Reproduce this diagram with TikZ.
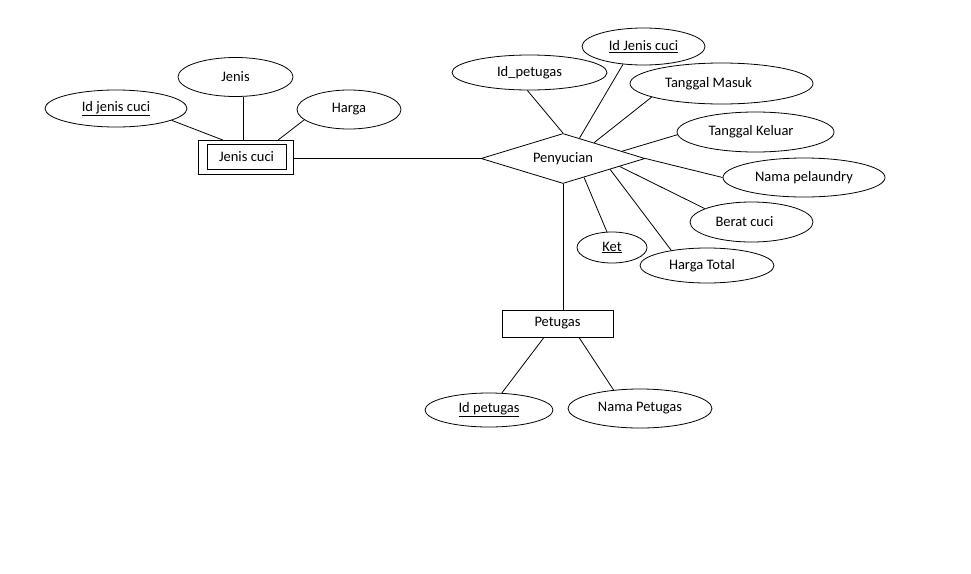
\documentclass[tikz,border=0pt]{standalone}
\usepackage{fontspec}
\setmainfont{Carlito}
\usetikzlibrary{shapes.geometric}
\begin{document}
\begin{tikzpicture}[x=1pt,y=-1pt, line width=0.8pt,
  every node/.style={font=\fontsize{14.5}{17}\selectfont},
  attr/.style={ellipse,draw,inner sep=0pt},
  ent/.style={rectangle,draw,inner sep=0pt},
  rel/.style={diamond,draw,inner sep=0pt,shape aspect=3.28}]
\useasboundingbox (0,0) rectangle (971,573);
% Jenis cuci (weak entity, double box)
\node[ent, minimum width=95pt, minimum height=34pt] (jc) at (245.5,157.5) {};
\node[ent, minimum width=79pt, minimum height=25pt] (jcin) at (246.5,157) {Jenis cuci};
\node[attr, minimum width=142pt, minimum height=37pt] (idjc) at (116,108.5) {\underline{Id jenis cuci}};
\node[attr, minimum width=115pt, minimum height=39pt] (jenis) at (235.5,77) {Jenis};
\node[attr, minimum width=104pt, minimum height=39pt] (harga) at (349,109.5) {Harga};
% relationship
\node[rel, minimum width=164pt, minimum height=50pt] (d) at (563,158.5) {Penyucian};
\node[attr, minimum width=155pt, minimum height=35pt] (idp) at (529.5,72.5) {Id\_petugas};
\node[attr, minimum width=123pt, minimum height=37pt] (idjc2) at (643.5,46.5) {\underline{Id Jenis cuci}};
\node[attr, minimum width=183pt, minimum height=41pt] (tm) at (721.5,83.5) {\hspace*{-26pt}Tanggal Masuk};
\node[attr, minimum width=157pt, minimum height=40pt] (tk) at (755.5,132) {\hspace*{-9pt}Tanggal Keluar};
\node[attr, minimum width=162pt, minimum height=39pt] (np) at (804,177.5) {Nama pelaundry};
\node[attr, minimum width=123pt, minimum height=40pt] (bc) at (751.5,222) {\hspace*{-14pt}Berat cuci};
\node[attr, minimum width=134pt, minimum height=35pt] (ht) at (707,265.5) {\hspace*{-10pt}Harga Total};
\node[attr, minimum width=70pt, minimum height=31pt] (ket) at (612,247.5) {\underline{Ket}};
% Petugas
\node[ent, minimum width=111pt, minimum height=27pt] (pt) at (557.5,323.5) {Petugas};
\node[attr, minimum width=128pt, minimum height=34pt] (idpt) at (489,410) {\underline{Id petugas}};
\node[attr, minimum width=144pt, minimum height=39pt] (npt) at (640,408.5) {Nama Petugas};
% connectors
\draw (idjc.348) -- ([xshift=-22.5pt]jc.north);
\draw ([xshift=7.5pt]jenis.south) -- ([xshift=-2.5pt]jc.north);
\draw (harga.193) -- ([xshift=32.5pt]jc.north);
\draw (d.west) -- (d.west -| jc.east);
\draw (idp.-97) -- (d.north);
\draw (idjc2.221) -- (d.51);
\draw (tm.191) -- (d.27);
\draw (tk.182) -- (d.7);
\draw (np.west) -- (d.east);
\draw (bc.164) -- (d.-8);
\draw (ht.157) -- (d.-13);
\draw (ket.108) -- (d.-42);
\draw (d.south) -- (d.south |- pt.north);
\draw ([xshift=-13.5pt]pt.south) -- (idpt.53);
\draw ([xshift=21.5pt]pt.south) -- (npt.145);
\end{tikzpicture}
\end{document}
